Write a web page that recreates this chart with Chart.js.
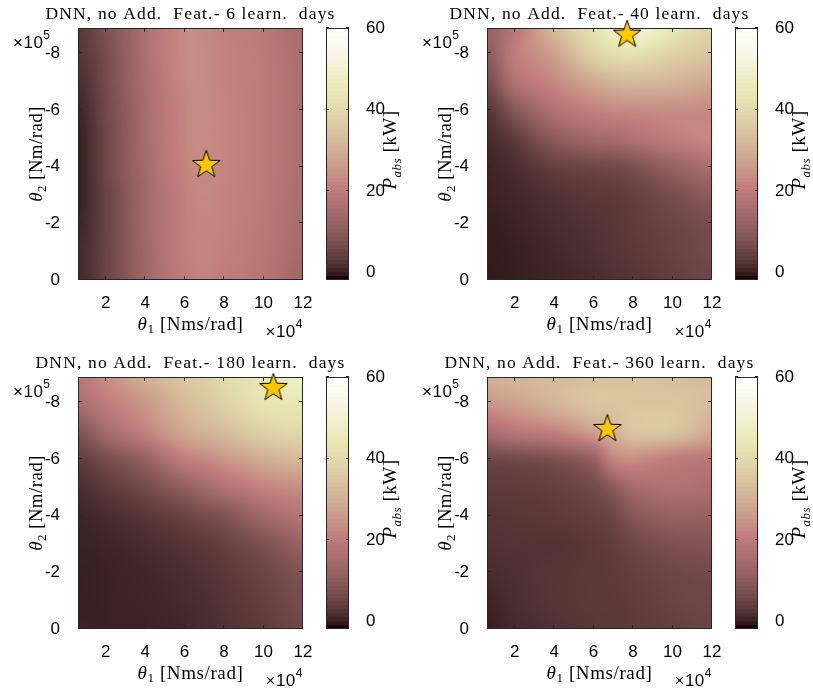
<!DOCTYPE html>
<html>
<head>
<meta charset="utf-8">
<script src="https://cdn.jsdelivr.net/npm/chart.js@4.4.1/dist/chart.umd.min.js"></script>
<style>
  body { margin: 0; background: #fff; }
  canvas { position: absolute; }
</style>
</head>
<body>
<canvas id="plot0" width="404" height="340" style="left:0px;top:0px"></canvas>
<canvas id="cbar0" width="84" height="340" style="left:320px;top:0px"></canvas>
<canvas id="plot1" width="404" height="340" style="left:409px;top:0px"></canvas>
<canvas id="cbar1" width="84" height="340" style="left:729px;top:0px"></canvas>
<canvas id="plot2" width="404" height="340" style="left:0px;top:349px"></canvas>
<canvas id="cbar2" width="84" height="340" style="left:320px;top:349px"></canvas>
<canvas id="plot3" width="404" height="340" style="left:409px;top:349px"></canvas>
<canvas id="cbar3" width="84" height="340" style="left:729px;top:349px"></canvas>
<script>
'use strict'
// grid nodes: theta1 (x 10^4 Nms/rad), theta2 (x 10^5 Nm/rad)
const theta1 = [0.6, 2, 4, 6, 7, 8, 10, 12];
const theta2 = [0, -1, -2, -3, -4, -5, -6, -7, -8, -8.9];
const xTicks = [2, 4, 6, 8, 10, 12];
const yTicks = [0, -2, -4, -6, -8];
const cbTicks = [0, 20, 40, 60];
const cbRange = [-1.8, 60];
const learnDays = [6, 40, 180, 360];

// P_abs [kW], one row per theta2 node (0 ... -8.9), one column per theta1 node
const pabs6 = [
  [1, 5, 13.5, 20, 21.5, 20.5, 18, 13.5],
  [1, 5, 13.5, 20.5, 22, 21, 18.5, 14.5],
  [0.5, 5, 14, 20.5, 22, 21.5, 19, 15],
  [0, 5, 14, 21, 22.5, 21.5, 19.5, 15.5],
  [0, 5.5, 14.5, 21.5, 23, 22, 19.5, 16],
  [0, 5.5, 15, 22, 23, 22, 19.5, 16],
  [0.5, 6, 15, 22, 23, 22, 19.5, 16],
  [1.5, 6.5, 15.5, 22.5, 23, 21.5, 19.5, 16],
  [2.5, 7, 16, 23, 23, 21.5, 19.5, 15.5],
  [3, 7.5, 16, 23, 22.5, 21, 19, 15],
];
const pabs40 = [
  [-0.3, 0, 0.6, 1.4, 2.1, 2.6, 4, 5.6],
  [-0.2, 0.1, 0.9, 1.9, 2.6, 3.2, 4.6, 6.3],
  [0, 0.4, 1.4, 2.3, 2.9, 3.7, 5.3, 7],
  [0.3, 0.8, 2.1, 3.2, 3.4, 4.3, 7, 10.2],
  [0.6, 1.6, 4.3, 5.6, 6.3, 7.8, 12, 15.8],
  [1.2, 3.7, 10.2, 14, 14.8, 17, 20.3, 22.5],
  [2.6, 9.3, 17, 21, 22.5, 23, 23.5, 23],
  [6.3, 17, 22.5, 28.5, 31, 32, 31, 28.5],
  [10.2, 20.3, 27, 38, 41, 42, 38, 35],
  [12, 19, 32, 42, 47, 51, 44, 38],
];
const pabs180 = [
  [0.3, 0.3, 0.4, 0.9, 1.4, 2.1, 3.7, 5.9],
  [0.1, 0.3, 0.6, 1.2, 1.7, 2.6, 4.3, 6.8],
  [0.1, 0.3, 0.8, 1.6, 2.3, 3.2, 5.3, 8.2],
  [0.3, 0.6, 1.4, 2.6, 3.4, 4.6, 7.8, 12],
  [0.6, 1.4, 2.9, 4.9, 6.8, 8.5, 14, 18],
  [1.6, 3.4, 6.3, 11, 14, 17, 21.5, 23.5],
  [3.7, 7, 12, 20.3, 22.5, 25, 29.5, 32],
  [8.5, 14.8, 21.5, 28.5, 31, 33, 38, 40],
  [15.8, 20.3, 25.2, 32, 34.7, 38, 43, 44],
  [19, 23.5, 29.5, 35, 37, 40, 44, 48],
];
const pabs360 = [
  [0, 1.2, 2.1, 2.9, 3.1, 3.4, 4.3, 4.9],
  [0.4, 1.6, 2.6, 3.2, 3.3, 3.7, 4.9, 5.6],
  [1.4, 1.9, 2.6, 3.2, 3.5, 4.3, 5.6, 6.3],
  [2.1, 2.3, 2.3, 3.2, 4, 5.6, 7.8, 8.5],
  [2.6, 2.9, 3.4, 4.3, 5.6, 9.3, 12, 12],
  [3.7, 3.7, 4.3, 6.3, 10.2, 14.8, 16.9, 15.8],
  [5.6, 6.3, 7.8, 12, 21.5, 23.5, 20.3, 19.1],
  [15.8, 19.1, 21.5, 27.1, 31, 34.7, 34.7, 29.1],
  [25.2, 27.1, 31.2, 34.7, 35, 34.7, 34.7, 33],
  [30, 31.5, 32.3, 33.5, 34, 34, 33.5, 32.3],
];
const surfaces = [pabs6, pabs40, pabs180, pabs360];
// best parameter set (star)
const bestX = [7.1, 7.7, 10.5, 6.7];
const bestY = [-4.1, -8.7, -8.55, -7.1];

const sans = '"Liberation Sans", Arial, sans-serif';
const serif = '"Liberation Serif", "Times New Roman", serif';

// MATLAB pink(64)
const pinkMap = (function () {
  const m = 64, n = Math.floor(3 / 8 * m);
  const lut = [];
  for (let i = 0; i < m; i++) {
    const gray = i / (m - 1);
    const r = i < n ? (i + 1) / n : 1;
    const g = i < n ? 0 : (i < 2 * n ? (i - n + 1) / n : 1);
    const b = i < 2 * n ? 0 : (i - 2 * n + 1) / (m - 2 * n);
    lut.push([r, g, b].map(h => 255 * Math.sqrt((2 * gray + h) / 3)));
  }
  return lut;
})();

// stepped for the colorbar, blended for the surface
function colorOf(v, smooth) {
  const m = pinkMap.length;
  const t = (v - cbRange[0]) / (cbRange[1] - cbRange[0]);
  if (!smooth) {
    const k = Math.max(0, Math.min(m - 1, Math.floor(t * m)));
    return pinkMap[k].map(Math.round);
  }
  let f = Math.max(0, Math.min(m - 1, t * m - 0.5));
  const k = Math.min(m - 2, Math.floor(f));
  f -= k;
  return [0, 1, 2].map(c => Math.round(pinkMap[k][c] * (1 - f) + pinkMap[k + 1][c] * f));
}

function locate(arr, v) {
  for (let i = 0; i < arr.length - 1; i++) {
    const a = arr[i], b = arr[i + 1];
    if ((v - a) * (v - b) <= 0) return i + (v - a) / (b - a);
  }
  return Math.abs(v - arr[0]) < Math.abs(v - arr[arr.length - 1]) ? 0 : arr.length - 1;
}

function cr(p0, p1, p2, p3, t) {
  return p1 + 0.5 * t * (p2 - p0 + t * (2 * p0 - 5 * p1 + 4 * p2 - p3 + t * (3 * (p1 - p2) + p3 - p0)));
}

// Catmull-Rom in grid index space
function sample(grid, xv, yv) {
  const fi = locate(theta1, xv), fj = locate(theta2, yv);
  const nx = theta1.length, ny = theta2.length;
  const i = Math.min(nx - 2, Math.floor(fi)), j = Math.min(ny - 2, Math.floor(fj));
  const tx = fi - i, ty = fj - j;
  const at = (jj, ii) => grid[Math.max(0, Math.min(ny - 1, jj))][Math.max(0, Math.min(nx - 1, ii))];
  const rows = [];
  for (let d = -1; d <= 2; d++) {
    rows.push(cr(at(j + d, i - 1), at(j + d, i), at(j + d, i + 1), at(j + d, i + 2), tx));
  }
  return cr(rows[0], rows[1], rows[2], rows[3], ty);
}

function starImage() {
  const c = document.createElement('canvas');
  c.width = c.height = 32;
  const g = c.getContext('2d');
  g.beginPath();
  for (let i = 0; i < 10; i++) {
    const r = i % 2 ? 5.8 : 14.5;
    const a = -Math.PI / 2 + i * Math.PI / 5;
    g.lineTo(16 + r * Math.cos(a), 17 + r * Math.sin(a));
  }
  g.closePath();
  g.fillStyle = 'rgb(255,200,0)';
  g.fill();
  g.lineWidth = 1;
  g.strokeStyle = '#000';
  g.stroke();
  return c;
}
const star = starImage();

// text pieces: [text, font, dy]
function richText(ctx, parts, x, y, rot, align, spacing) {
  ctx.save();
  ctx.translate(x, y);
  if (rot) ctx.rotate(rot);
  ctx.letterSpacing = (spacing || 0) + 'px';
  let w = 0;
  for (const p of parts) { ctx.font = p[1]; w += ctx.measureText(p[0]).width; }
  let cx = align === 'left' ? 0 : (align === 'right' ? -w : -w / 2);
  ctx.textAlign = 'left';
  ctx.textBaseline = 'alphabetic';
  ctx.fillStyle = '#000';
  for (const p of parts) {
    ctx.font = p[1];
    ctx.fillText(p[0], cx, p[2] || 0);
    cx += ctx.measureText(p[0]).width;
  }
  ctx.restore();
}

const heatmap = {
  id: 'heatmap',
  beforeDatasetsDraw(chart, args, opts) {
    const { ctx, chartArea: a, scales: { x, y } } = chart;
    const w = Math.round(a.right - a.left), h = Math.round(a.bottom - a.top);
    const off = document.createElement('canvas');
    off.width = w; off.height = h;
    const octx = off.getContext('2d');
    const img = octx.createImageData(w, h);
    for (let j = 0; j < h; j++) {
      const yv = y.getValueForPixel(a.top + j + 0.5);
      for (let i = 0; i < w; i++) {
        const xv = x.getValueForPixel(a.left + i + 0.5);
        const c = colorOf(sample(opts.grid, xv, yv), true);
        const k = (j * w + i) * 4;
        img.data[k] = c[0]; img.data[k + 1] = c[1]; img.data[k + 2] = c[2]; img.data[k + 3] = 255;
      }
    }
    octx.putImageData(img, 0, 0);
    ctx.drawImage(off, a.left, a.top);

    // box with inward ticks
    ctx.save();
    ctx.strokeStyle = '#262626';
    ctx.lineWidth = 1;
    ctx.strokeRect(a.left + 0.5, a.top + 0.5, w - 1, h - 1);
    ctx.beginPath();
    for (const t of yTicks) {
      const py = Math.round(y.getPixelForValue(t)) - 0.5;
      ctx.moveTo(a.left, py); ctx.lineTo(a.left + 4, py);
      ctx.moveTo(a.right, py); ctx.lineTo(a.right - 4, py);
    }
    for (const t of xTicks) {
      const px = Math.round(x.getPixelForValue(t)) - 0.5;
      ctx.moveTo(px, a.bottom); ctx.lineTo(px, a.bottom - 4);
      ctx.moveTo(px, a.top); ctx.lineTo(px, a.top + 4);
    }
    ctx.stroke();
    ctx.restore();

    // titles and axis labels
    const cx = (a.left + a.right) / 2, cy = (a.top + a.bottom) / 2;
    richText(ctx, [[opts.title, '17.5px ' + serif]], cx, a.top - 9, 0, 'center', 1.15);
    richText(ctx, [['θ', 'italic 19px ' + serif], ['1', '13px ' + serif, 3.5], [' [Nms/rad]', '19px ' + serif]],
      cx, a.bottom + 49.5, 0, 'center', 0.6);
    richText(ctx, [['θ', 'italic 19px ' + serif], ['2', '13px ' + serif, 3.5], [' [Nm/rad]', '19px ' + serif]],
      a.left - 36, cy, -Math.PI / 2, 'center', 0.4);
    richText(ctx, [['×10', '17px ' + sans], ['4', '12px ' + sans, -9.5]], a.right, a.bottom + 57, 0, 'right', 0.5);
    richText(ctx, [['×10', '17px ' + sans], ['5', '12px ' + sans, -9.5]], a.left - 65, a.top + 20, 0, 'left', 0.5);
  }
};

const colorbar = {
  id: 'colorbar',
  beforeDatasetsDraw(chart) {
    const { ctx, chartArea: a, scales: { y } } = chart;
    for (let py = Math.round(a.top); py < a.bottom; py++) {
      const c = colorOf(y.getValueForPixel(py + 0.5), false);
      ctx.fillStyle = 'rgb(' + c.join(',') + ')';
      ctx.fillRect(a.left, py, a.right - a.left, 1);
    }
    ctx.save();
    ctx.strokeStyle = '#262626';
    ctx.lineWidth = 1;
    ctx.strokeRect(a.left + 0.5, a.top + 0.5, a.right - a.left - 1, a.bottom - a.top - 1);
    ctx.beginPath();
    for (const t of cbTicks) {
      const py = Math.round(y.getPixelForValue(t)) - 0.5;
      ctx.moveTo(a.right, py); ctx.lineTo(a.right - 3, py);
      ctx.moveTo(a.left, py); ctx.lineTo(a.left + 3, py);
    }
    ctx.stroke();
    ctx.restore();
    richText(ctx, [['P', 'italic 19px ' + serif], ['abs', 'italic 13px ' + serif, 4.5], [' [kW]', '19px ' + serif]],
      a.right + 47, (a.top + a.bottom) / 2 - 4, -Math.PI / 2, 'center', 0.5);
  }
};

const tickFont = { family: sans, size: 17 };

function makePlot(k) {
  new Chart(document.getElementById('plot' + k), {
    type: 'scatter',
    data: {
      datasets: [{
        data: [{ x: bestX[k], y: bestY[k] }],
        pointStyle: star,
        clip: false,
      }],
    },
    options: {
      responsive: false,
      animation: false,
      events: [],
      layout: { padding: { left: 0, top: 28, right: 101, bottom: 0 } },
      plugins: {
        legend: { display: false },
        tooltip: { enabled: false },
        heatmap: { grid: surfaces[k], title: 'DNN, no Add.  Feat.- ' + learnDays[k] + ' learn.  days' },
      },
      scales: {
        x: {
          type: 'linear', min: theta1[0], max: theta1[theta1.length - 1],
          grid: { display: false }, border: { display: false },
          afterBuildTicks: s => { s.ticks = xTicks.map(v => ({ value: v })); },
          afterFit: s => { s.height = 60; s.paddingLeft = 0; s.paddingRight = 0; },
          ticks: { font: tickFont, color: '#000', padding: 5, maxRotation: 0, callback: v => String(v) },
        },
        y: {
          type: 'linear', min: theta2[theta2.length - 1], max: theta2[0], reverse: true,
          grid: { display: false }, border: { display: false },
          afterBuildTicks: s => { s.ticks = yTicks.map(v => ({ value: v })); },
          afterFit: s => { s.width = 78; s.paddingTop = 0; s.paddingBottom = 0; },
          ticks: { font: tickFont, color: '#000', padding: 10, callback: v => String(v) },
        },
      },
    },
    plugins: [heatmap],
  });
}

function makeColorbar(k) {
  new Chart(document.getElementById('cbar' + k), {
    type: 'scatter',
    data: { datasets: [] },
    options: {
      responsive: false,
      animation: false,
      events: [],
      layout: { padding: { left: 6, top: 28, right: 0, bottom: 60 } },
      plugins: { legend: { display: false }, tooltip: { enabled: false } },
      scales: {
        x: { display: false, min: 0, max: 1 },
        y: {
          type: 'linear', position: 'right', min: cbRange[0], max: cbRange[1],
          grid: { display: false }, border: { display: false },
          afterBuildTicks: s => { s.ticks = cbTicks.map(v => ({ value: v })); },
          afterFit: s => { s.width = 55; s.paddingTop = 0; s.paddingBottom = 0; },
          ticks: { font: tickFont, color: '#000', padding: 9, callback: v => String(v) },
        },
      },
    },
    plugins: [colorbar],
  });
}

for (let k = 0; k < 4; k++) {
  makePlot(k);
  makeColorbar(k);
}
</script>
</body>
</html>
